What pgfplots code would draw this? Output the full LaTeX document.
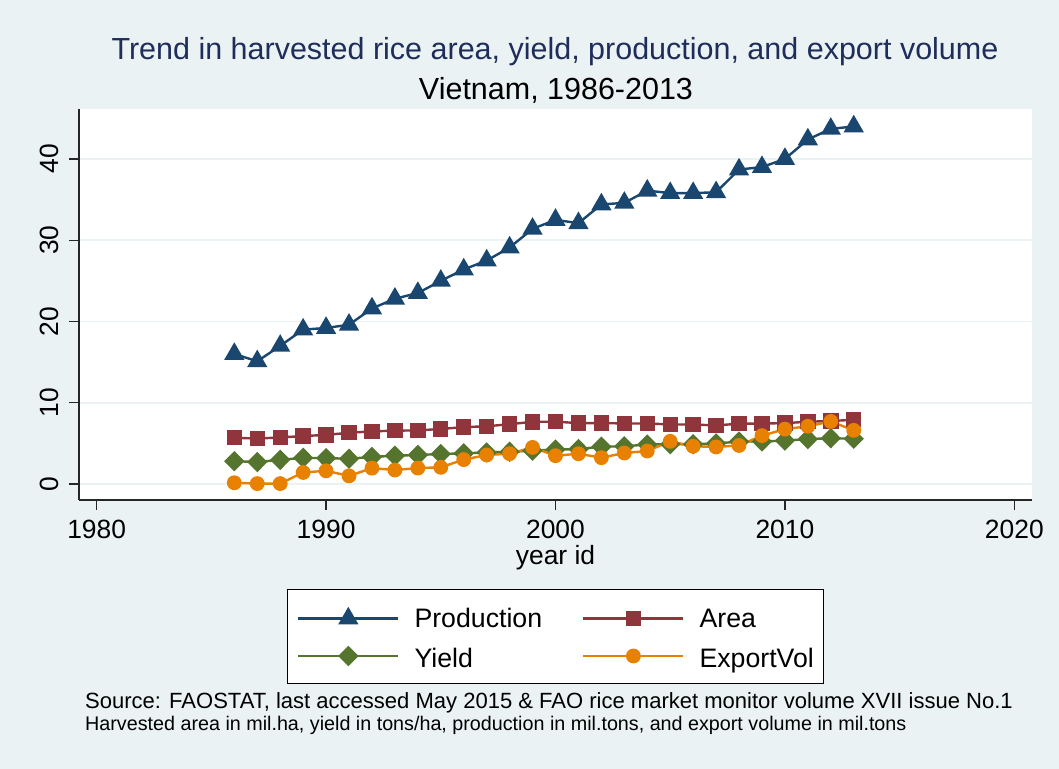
\documentclass[border=0pt]{standalone}
\usepackage{fontspec}
\setmainfont{Liberation Sans}
\usepackage{pgfplots}
\pgfplotsset{compat=1.18}
\definecolor{bg}{RGB}{234,242,243}
\definecolor{snavy}{RGB}{26,71,111}
\definecolor{smaroon}{RGB}{144,53,59}
\definecolor{sgreen}{RGB}{85,117,47}
\definecolor{sorange}{RGB}{232,128,0}
\definecolor{tnavy}{RGB}{30,45,90}
\begin{document}
\begin{tikzpicture}
\fill[bg] (0,0) rectangle (1059bp,769bp);
\node[anchor=base, inner sep=0pt, font=\fontsize{30.6}{34}\selectfont, text=tnavy] at (555bp,709.5bp) {Trend in harvested rice area, yield, production, and export volume};
\node[anchor=base, inner sep=0pt, font=\fontsize{30.6}{34}\selectfont] at (556bp,669bp) {Vietnam, 1986-2013};
\begin{axis}[
  at={(79bp,269bp)}, anchor=south west, scale only axis,
  width=953bp, height=391bp,
  xmin=1979.23, xmax=2020.77, ymin=-1.97, ymax=46.15,
  axis background/.style={fill=white},
  axis x line*=bottom, axis y line*=left,
  axis line style={-, line width=1.2bp, color=black!85},
  xtick={1980,1990,2000,2010,2020}, ytick={0,10,20,30,40},
  tick align=outside, major tick length=10bp,
  tick style={line width=1.2bp, color=black!85},
  ymajorgrids, grid style={line width=1.8bp, color=bg},
  /pgf/number format/1000 sep={},
  /pgf/number format/assume math mode=true,
  ticklabel style={font=\fontsize{26.5}{30}\selectfont, inner sep=0pt},
  xticklabel style={anchor=north},
  xticklabel shift=10bp,
  yticklabel style={rotate=90, anchor=south},
  yticklabel shift=10bp,
  xlabel={year id},
  xlabel style={font=\fontsize{26.5}{30}\selectfont, inner sep=0pt, anchor=base, at={(axis description cs:0.5,-0.166)}},
  legend columns=2,
  legend cell align=left,
  legend image code/.code={\draw[yshift=5bp,mark repeat=2,mark phase=2,#1] plot coordinates {(0bp,0bp)(50bp,0bp)(100bp,0bp)};},
  legend style={at={(0.5,-0.2276)}, anchor=north, draw=black, line width=1bp, fill=white,
    font=\fontsize{26.8}{30}\selectfont,
    nodes={inner xsep=0pt, inner ysep=0pt, text height=20bp, text depth=6bp},
    /tikz/row 1/.style={nodes={text height=28bp, text depth=20bp}},
    inner xsep=10bp, inner ysep=10bp,
    /tikz/every odd column/.append style={column sep=15bp},
    /tikz/every even column/.append style={column sep=40bp}},
  every axis plot/.append style={line width=2.4bp},
]
\addplot[color=snavy, mark=triangle*, mark size=9.3bp, mark options={solid}] coordinates {
(1986,16.0)(1987,15.1)(1988,17.0)(1989,19.0)(1990,19.2)(1991,19.6)(1992,21.6)(1993,22.8)
(1994,23.5)(1995,25.0)(1996,26.4)(1997,27.5)(1998,29.1)(1999,31.4)(2000,32.5)(2001,32.1)
(2002,34.4)(2003,34.6)(2004,36.1)(2005,35.8)(2006,35.8)(2007,35.9)(2008,38.7)(2009,39.0)
(2010,40.0)(2011,42.4)(2012,43.7)(2013,44.0)};
\addlegendentry{Production}
\addplot[color=smaroon, mark=square*, mark size=6.5bp, mark options={solid}] coordinates {
(1986,5.69)(1987,5.59)(1988,5.73)(1989,5.90)(1990,6.04)(1991,6.30)(1992,6.48)(1993,6.56)
(1994,6.60)(1995,6.77)(1996,7.00)(1997,7.10)(1998,7.36)(1999,7.65)(2000,7.67)(2001,7.49)
(2002,7.50)(2003,7.45)(2004,7.45)(2005,7.33)(2006,7.32)(2007,7.21)(2008,7.42)(2009,7.44)
(2010,7.49)(2011,7.66)(2012,7.75)(2013,7.90)};
\addlegendentry{Area}
\addplot[color=sgreen, mark=diamond*, mark size=8.5bp, mark options={solid, xscale=1.33}] coordinates {
(1986,2.81)(1987,2.70)(1988,2.97)(1989,3.22)(1990,3.18)(1991,3.11)(1992,3.33)(1993,3.48)
(1994,3.57)(1995,3.69)(1996,3.77)(1997,3.88)(1998,3.96)(1999,4.10)(2000,4.24)(2001,4.29)
(2002,4.59)(2003,4.64)(2004,4.86)(2005,4.89)(2006,4.89)(2007,4.99)(2008,5.22)(2009,5.23)
(2010,5.34)(2011,5.53)(2012,5.63)(2013,5.57)};
\addlegendentry{Yield}
\addplot[color=sorange, mark=*, mark size=6.2bp, mark options={solid}] coordinates {
(1986,0.15)(1987,0.05)(1988,0.05)(1989,1.42)(1990,1.62)(1991,1.0)(1992,1.95)(1993,1.72)
(1994,1.96)(1995,2.05)(1996,3.0)(1997,3.57)(1998,3.73)(1999,4.5)(2000,3.48)(2001,3.72)
(2002,3.24)(2003,3.81)(2004,4.06)(2005,5.25)(2006,4.64)(2007,4.56)(2008,4.74)(2009,5.95)
(2010,6.75)(2011,7.1)(2012,7.7)(2013,6.6)};
\addlegendentry{ExportVol}
\end{axis}
\node[anchor=base west, inner sep=0pt, font=\fontsize{22.1}{24}\selectfont] at (85bp,60bp) {Source: FAOSTAT, last accessed May 2015 \& FAO rice market monitor volume XVII issue No.1};
\node[anchor=base west, inner sep=0pt, font=\fontsize{19.8}{24}\selectfont] at (85bp,39bp) {Harvested area in mil.ha, yield in tons/ha, production in mil.tons, and export volume in mil.tons};
\end{tikzpicture}
\end{document}
